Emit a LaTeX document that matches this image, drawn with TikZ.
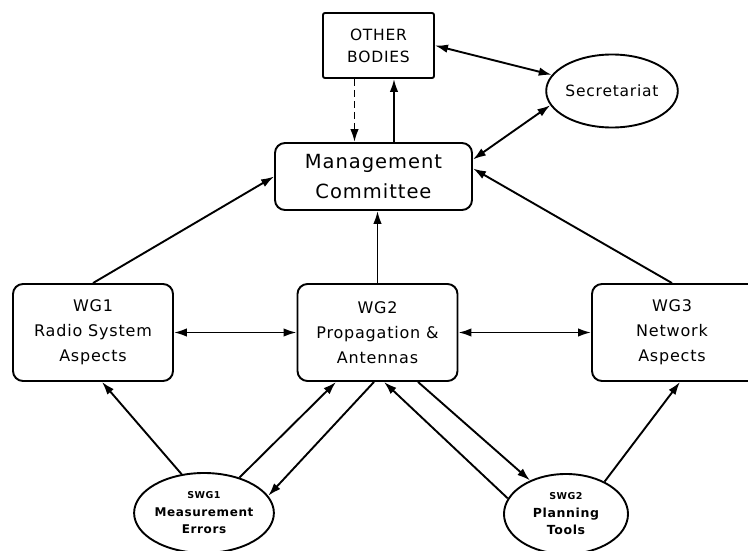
\documentclass[tikz,border=0pt]{standalone}
\usepackage{fontspec}
\setmainfont{DejaVu Sans}[LetterSpace=5]
\usetikzlibrary{arrows.meta,shapes.geometric}

\tikzset{
  line/.style={line width=1.9pt},
  tip/.tip={Latex[length=13pt,width=8.5pt]},
  arr/.style={line,-tip},
  darr/.style={line,tip-tip},
  plainbox/.style={draw,line width=1.9pt,inner sep=0pt,align=center},
  wgbox/.style={plainbox,rounded corners=10pt,minimum width=160pt,minimum height=97pt,
    font=\fontsize{16}{25}\selectfont},
  mcbox/.style={plainbox,rounded corners=10pt,minimum width=197pt,minimum height=67pt,
    font=\fontsize{19.5}{30}\selectfont},
  obbox/.style={plainbox,rounded corners=2pt,minimum width=111pt,minimum height=65pt,
    font=\fontsize{15.5}{22}\selectfont},
  oval/.style={draw,ellipse,line width=1.9pt,inner sep=0pt,align=center},
}

\begin{document}
\begin{tikzpicture}[x=1pt,y=-1pt]
\useasboundingbox (0,0) rectangle (748,551);
\fill[white] (0,0) rectangle (748,551);
\clip (0,0) rectangle (748,551);

% boxes
\node[obbox] (ob) at (378.5,45.5) {OTHER\\BODIES};
\node[oval,minimum width=112pt,minimum height=73pt,font=\fontsize{15.5}{18}\selectfont]
  (sec) at (612,91) {Secretariat};
\node[mcbox] (mc) at (373.5,176.5) {Management\\Committee};
\node[wgbox] (wg1) at (93,332.5) {WG1\\Radio System\\Aspects};
\node[wgbox] (wg2) at (377.5,332.5) {WG2\\Propagation \&\\Antennas};
\node[wgbox,minimum width=176pt,xshift=8pt] (wg3) at (672,332.5) {\hspace*{-16pt}WG3\\\hspace*{-16pt}Network\\\hspace*{-16pt}Aspects};
\node[oval,minimum width=118pt,minimum height=80pt,font=\bfseries\fontsize{12}{17.5}\selectfont]
  (swg1) at (204,513) {{\fontsize{9.5}{12}\selectfont SWG1}\\Measurement\\Errors};
\node[oval,minimum width=124pt,minimum height=80pt,font=\bfseries\fontsize{12.5}{17.5}\selectfont]
  (swg2) at (566,514) {{\fontsize{9.5}{12}\selectfont SWG2}\\Planning\\Tools};

% top links
\draw[darr] (ob.east) -- (sec.165);
\draw[darr] (sec.193) -- ([yshift=17pt]mc.east);
\draw[arr,dash pattern=on 7pt off 4pt] ([xshift=-24pt]ob.south) -- ([xshift=-24pt]ob.south |- mc.north);
\draw[arr] ([xshift=15.5pt]ob.south |- mc.north) -- ([xshift=15.5pt]ob.south);

% working groups to the committee
\draw[arr] (wg1.north) -- (mc.west);
\draw[arr] (wg2.north) -- (wg2.north |- mc.south);
\draw[arr] ([xshift=-8pt]wg3.north) -- ([yshift=8pt]mc.east);

% between working groups
\draw[darr] (wg1.east) -- (wg2.west);
\draw[darr] (wg2.east) -- (wg3.west);

% sub-groups
\draw[arr] (swg1.120) -- ([xshift=9pt]wg1.south);
\draw[arr] (swg1.45) -- ([xshift=-41.5pt]wg2.south);
\draw[arr] ([xshift=-3.5pt]wg2.south) -- (swg1.15);
\draw[arr] (swg2.165) -- ([xshift=6.5pt]wg2.south);
\draw[arr] ([xshift=40.5pt]wg2.south) -- (swg2.137);
\draw[arr] (swg2.40) -- ([xshift=0pt]wg3.south);
\end{tikzpicture}
\end{document}
